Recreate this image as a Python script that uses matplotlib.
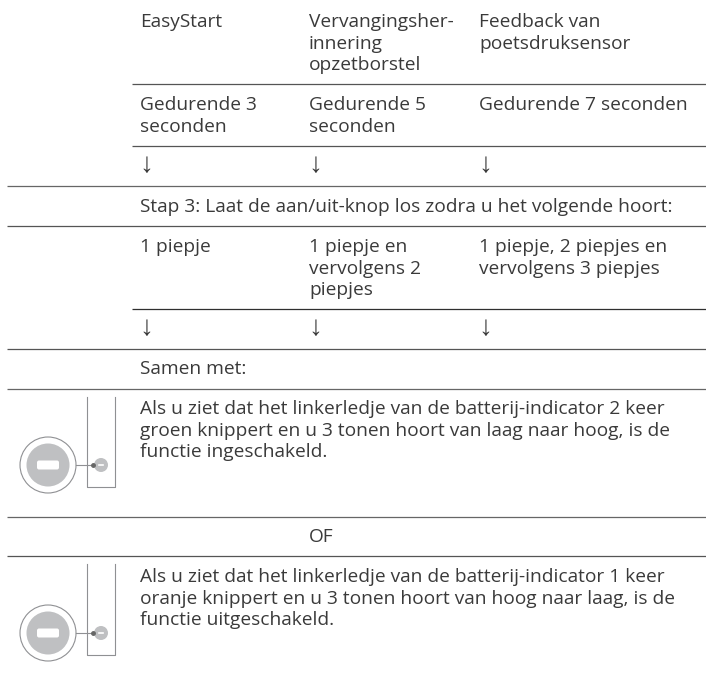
import matplotlib
matplotlib.use("Agg")
import matplotlib.pyplot as plt
from matplotlib.patches import Circle, FancyBboxPatch

# --- table content ---
col_x = [140, 309, 479]
names = ["EasyStart", "Vervangingsher-\ninnering\nopzetborstel", "Feedback van\npoetsdruksensor"]
durations = ["Gedurende 3\nseconden", "Gedurende 5\nseconden", "Gedurende 7 seconden"]
beeps = ["1 piepje", "1 piepje en\nvervolgens 2\npiepjes", "1 piepje, 2 piepjes en\nvervolgens 3 piepjes"]
step3 = "Stap 3: Laat de aan/uit-knop los zodra u het volgende hoort:"
together = "Samen met:"
on_text = ("Als u ziet dat het linkerledje van de batterij-indicator 2 keer\n"
           "groen knippert en u 3 tonen hoort van laag naar hoog, is de\n"
           "functie ingeschakeld.")
off_text = ("Als u ziet dat het linkerledje van de batterij-indicator 1 keer\n"
            "oranje knippert en u 3 tonen hoort van hoog naar laag, is de\n"
            "functie uitgeschakeld.")

# --- horizontal rules: y, x start, colour ---
rules = [(84, 132, "#555555"), (146, 132, "#555555"), (186, 7, "#666666"),
         (225.5, 7, "#555555"), (309, 132, "#2f2f2f"), (349, 7, "#555555"),
         (389, 7, "#666666"), (517, 7, "#666666"), (556, 7, "#555555")]

INK = "#3a3a3a"
GREY = "#bfc0c2"
LINE = "#8f9093"
FS = 13.8
LEADING = 21.7

fig = plt.figure(figsize=(7.06, 6.80), dpi=100)
ax = fig.add_axes([0, 0, 1, 1])
ax.set_xlim(0, 706)
ax.set_ylim(680, 0)
ax.axis("off")

def put(x, y, s, size=FS):
    # one text per line, y is the baseline of the first line
    for i, line in enumerate(s.split("\n")):
        ax.text(x, y + i * LEADING, line, fontsize=size, color=INK,
                family=["Open Sans", "Liberation Sans"], va="baseline")

for y, x0, c in rules:
    ax.plot([x0, 706], [y, y], color=c, lw=0.9, solid_capstyle="butt")

for x, a, b, c in zip(col_x, names, durations, beeps):
    put(x, 27, a)
    put(x, 110, b)
    put(x - 1, 172, "↓", size=20)
    put(x, 252, c)
    put(x - 1, 335, "↓", size=20)

put(140, 212, step3)
put(140, 374, together)
put(140, 414, on_text)
put(140, 582, off_text)
put(309, 542, "OF")

# --- battery icon ---
def icon(top, cy):
    ax.plot([87, 87, 115, 115], [top, cy + 22, cy + 22, top], color=LINE, lw=0.8)
    ax.add_patch(Circle((48, cy), 28, fc="white", ec=LINE, lw=0.8))
    ax.add_patch(Circle((48, cy), 21.5, fc=GREY, ec="none"))
    ax.add_patch(FancyBboxPatch((37, cy - 4.5), 22, 9, boxstyle="round,pad=0,rounding_size=2",
                                fc="white", ec="none"))
    ax.plot([76, 94], [cy, cy], color=LINE, lw=0.8)
    ax.plot([92.5], [cy], "o", ms=2.5, color="#666666")
    ax.add_patch(Circle((101, cy), 7, fc=GREY, ec="none"))
    ax.plot([99, 103], [cy, cy], color="white", lw=1.2)

icon(397, 465)
icon(564, 633)

fig.savefig("out.png", dpi=100)
